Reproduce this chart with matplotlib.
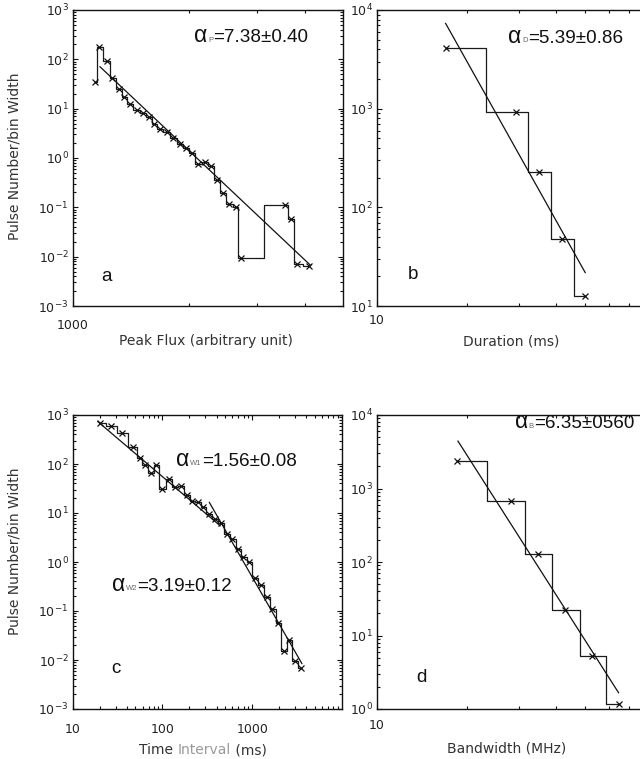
import numpy as np
import matplotlib
matplotlib.use("Agg")
import matplotlib.pyplot as plt
from matplotlib.ticker import FixedLocator, NullFormatter, LogLocator, FuncFormatter

# ---- data -------------------------------------------------------------
peak_flux = [1142, 1172, 1225, 1267, 1318, 1361, 1407, 1465, 1518, 1577,
             1627, 1684, 1752, 1823, 1897, 1966, 2033, 2116, 2201, 2277,
             2370, 2456, 2546, 2643, 2723, 3548, 3670, 3805, 4102]
peak_counts = [35, 181, 92, 41, 24.7, 17, 12.2, 9.4, 8.0, 6.7,
               4.9, 3.8, 3.3, 2.5, 1.9, 1.57, 1.28, 0.755, 0.82, 0.70,
               0.358, 0.198, 0.117, 0.10, 0.0095, 0.113, 0.058, 0.0070, 0.0066]

duration = [17.0, 29.35, 34.9, 41.8, 49.8]
duration_counts = [4150, 933, 226, 48, 12.6]

interval = [20.3, 26.9, 35.4, 47.0, 55.8, 63.5, 74.6, 84.9, 99.0, 117.5,
            139.2, 161.2, 188, 214, 249, 283.5, 331, 386, 447, 521,
            602, 702, 798, 931, 1077, 1247, 1455, 1680, 1960, 2268,
            2598, 3009, 3510]
interval_counts = [678, 597, 423, 219, 131, 95, 66, 95, 30.9, 49.4,
                   33.4, 35.6, 23.3, 17.8, 16.8, 13.4, 9.7, 7.4, 6.3, 3.72,
                   2.90, 1.82, 1.25, 1.0, 0.479, 0.340, 0.190, 0.111, 0.0577, 0.0155,
                   0.0252, 0.00968, 0.00678]

bandwidth = [18.6, 28.1, 34.7, 42.9, 52.8, 64.7]
bandwidth_counts = [2350, 667, 130, 22.1, 5.19, 1.18]

# power-law indices and fit ranges: (x_start, x_end, x_ref, y_ref)
alpha_p, alpha_p_err = 7.38, "0.40"
alpha_d, alpha_d_err = 5.39, "0.86"
alpha_w1, alpha_w1_err = 1.56, "0.08"
alpha_w2, alpha_w2_err = 3.19, "0.12"
alpha_b, alpha_b_err = 6.35, "0560"

fit_p = (1177, 4137, 2207, 0.683)
fit_d = (17.0, 50.0, 29.15, 399.6)
fit_w1 = (19.1, 439, 19.1, 730)
fit_w2 = (333, 3573, 1091, 0.3727)
fit_b = (18.7, 64.7, 34.8, 85.5)

# ---- figure -----------------------------------------------------------
W, H = 640, 759
fig = plt.figure(figsize=(W / 100, H / 100), dpi=100)
SANS = ["Liberation Sans", "DejaVu Sans"]
LABEL_FONT = ["DejaVu Sans"]


def box(l, t, r, b):
    return [l / W, 1 - b / H, (r - l) / W, (b - t) / H]


def fpos(x, y):
    return x / W, 1 - y / H


ax_a = fig.add_axes(box(72.7, 10, 342.5, 306))
ax_b = fig.add_axes(box(377, 10, 646, 306))
ax_c = fig.add_axes(box(72.7, 415, 342.0, 709))
ax_d = fig.add_axes(box(377, 415, 646, 709))


def setup(ax, xlim, ylim, xmajor, xminor, xpad):
    ax.set_xscale("log")
    ax.set_yscale("log")
    ax.set_xlim(*xlim)
    ax.set_ylim(*ylim)
    ax.xaxis.set_major_locator(FixedLocator(xmajor))
    ax.xaxis.set_minor_locator(FixedLocator(xminor))
    ax.xaxis.set_major_formatter(FuncFormatter(lambda v, p: f"{v:g}"))
    ax.xaxis.set_minor_formatter(NullFormatter())
    ax.yaxis.set_major_locator(LogLocator(base=10, numticks=20))
    ax.yaxis.set_minor_locator(LogLocator(base=10, subs=np.arange(2, 10), numticks=20))
    ax.yaxis.set_major_formatter(
        FuncFormatter(lambda v, p: r"$10^{%d}$" % round(np.log10(v))))
    ax.yaxis.set_minor_formatter(NullFormatter())
    ax.tick_params(which="both", direction="in", top=True, right=True,
                   width=0.8, color="#111", labelcolor="#222")
    ax.tick_params(which="major", length=3.6)
    ax.tick_params(which="minor", length=2.0)
    ax.tick_params(axis="x", which="major", pad=xpad, labelsize=9)
    ax.tick_params(axis="y", which="major", pad=3.0, labelsize=9)
    for sp in ax.spines.values():
        sp.set_linewidth(1.0)
        sp.set_color("#111")


setup(ax_a, (1000, 5000), (1e-3, 1e3), [1000], [2000, 3000, 4000], 9.5)
setup(ax_b, (10, 80), (10, 1e4), [10], [20, 30, 40, 50, 60, 70], 5.5)
setup(ax_c, (10, 1e4), (1e-3, 1e3), [10, 100, 1000],
      [m * d for d in (10, 100, 1000) for m in range(2, 10)], 10.0)
setup(ax_d, (10, 80), (1, 1e4), [10], [20, 30, 40, 50, 60, 70], 7.0)


def draw_hist(ax, x, y):
    ax.plot(x, y, drawstyle="steps-mid", color="#1a1a1a", lw=0.9)
    ax.plot(x, y, "x", color="#111", ms=4, mew=0.9, ls="none")


def draw_fit(ax, fit, alpha):
    x0, x1, xr, yr = fit
    xs = np.array([x0, x1])
    ax.plot(xs, yr * (xs / xr) ** (-alpha), color="#111", lw=0.9)


draw_hist(ax_a, peak_flux, peak_counts)
draw_fit(ax_a, fit_p, alpha_p)
draw_hist(ax_b, duration, duration_counts)
draw_fit(ax_b, fit_d, alpha_d)
draw_hist(ax_c, interval, interval_counts)
draw_fit(ax_c, fit_w1, alpha_w1)
draw_fit(ax_c, fit_w2, alpha_w2)
draw_hist(ax_d, bandwidth, bandwidth_counts)
draw_fit(ax_d, fit_b, alpha_b)

renderer = fig.canvas.get_renderer()


def alpha_text(x_px, base_px, sub, value, err):
    y = 1 - base_px / H
    t1 = fig.text(x_px / W, y, "α", fontsize=16.5, family=SANS,
                  va="baseline", ha="left", color="#111")
    x1 = t1.get_window_extent(renderer).x1
    t2 = fig.text((x1 + 0.6) / W, y + 0.6 / H, sub, fontsize=5.5, family=SANS,
                  va="baseline", ha="left", color="#666")
    x2 = t2.get_window_extent(renderer).x1
    fig.text((x2 + 0.3) / W, y, f"={value:.2f}±{err}", fontsize=13.6, family=SANS,
             va="baseline", ha="left", color="#111")


alpha_text(194.3, 42.3, "P", alpha_p, alpha_p_err)
alpha_text(508.3, 42.7, "D", alpha_d, alpha_d_err)
alpha_text(176.0, 466.0, "W1", alpha_w1, alpha_w1_err)
alpha_text(111.7, 591.0, "W2", alpha_w2, alpha_w2_err)
alpha_text(515.0, 428.3, "B", alpha_b, alpha_b_err)

# panel letters
for letter, (px, py) in zip("abcd", [(101, 281), (407.3, 279.3),
                                     (111, 673.3), (416, 681.7)]):
    fig.text(*fpos(px, py), letter, fontsize=13.5, family=SANS,
             va="baseline", ha="left", color="#111")

# axis titles
ylab = "Pulse Number/bin Width"
fig.text(*fpos(15, 155.8), ylab, rotation=90, fontsize=10, family=LABEL_FONT,
         va="center", ha="center", color="#333")
fig.text(*fpos(15, 551.7), ylab, rotation=90, fontsize=10, family=LABEL_FONT,
         va="center", ha="center", color="#333")
fig.text(*fpos(205.7, 341.5), "Peak Flux (arbitrary unit)", fontsize=10,
         family=LABEL_FONT, va="center", ha="center", color="#333")
fig.text(*fpos(511.0, 341.5), "Duration (ms)", fontsize=10,
         family=LABEL_FONT, va="center", ha="center", color="#333")
fig.text(*fpos(506.7, 748.0), "Bandwidth (MHz)", fontsize=10,
         family=LABEL_FONT, va="center", ha="center", color="#333")

# "Time Interval (ms)" with the middle word in a lighter tone
parts = [("Time ", "#333"), ("Interval", "#9a9a9a"), (" (ms)", "#333")]
xcur = 139.3
for s, c in parts:
    t = fig.text(xcur / W, 1 - 754 / H, s, fontsize=10, family=LABEL_FONT,
                 va="baseline", ha="left", color=c)
    xcur = t.get_window_extent(renderer).x1

fig.savefig("out.png", dpi=100)
